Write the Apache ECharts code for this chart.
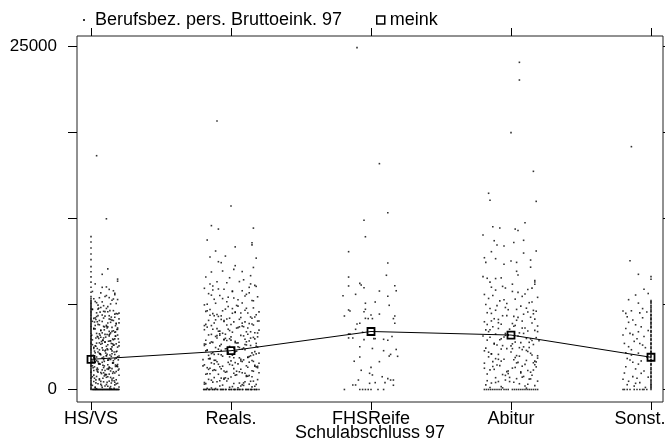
<!DOCTYPE html>
<html>
<head>
<meta charset="utf-8">
<script src="https://cdn.jsdelivr.net/npm/echarts@6/dist/echarts.min.js"></script>
<style>
  html, body { margin: 0; padding: 0; background: #fff; }
  #chart { width: 665px; height: 440px; }
</style>
</head>
<body>
<div id="chart"></div>
<script>
// School-leaving qualification groups (x categories)
const categories = ['HS/VS', 'Reals.', 'FHSReife', 'Abitur', 'Sonst.'];
// Group means of gross income (meink)
const meink = [2200, 2830, 4230, 3970, 2350];
// Y axis ticks and labelled ticks
const yTickValues = [0, 6250, 12500, 18750, 25000];
const yLabelValues = [0, 25000];

// Individual incomes per group as [jitter offset, income in DM]
const incHSVS = [
  [.01,0],[.03,0],[.05,0],[.07,0],[.09,0],[.11,0],[.13,0],[.15,0],[.17,0],[.19,0],[.02,0],[.06,0],[.10,0],[.14,0],[.18,0],[.04,0],[.08,0],[.12,0],[.16,0],[.20,0],
  [.015,0],[.025,0],[.035,0],[.045,0],[.055,0],[.065,0],[.075,0],[.085,0],[.095,0],[.105,0],[.115,0],[.125,0],[.135,0],[.145,0],[.155,0],[.165,0],[.175,0],[.185,0],[.195,0],
  [.03,120],[.17,340],[.09,560],[.14,210],[.06,780],[.19,450],[.11,890],[.01,300],[.15,650],[.08,160],[.12,930],[.05,420],[.18,710],[.02,580],[.10,260],[.16,840],[.07,380],[.13,610],[.04,950],[.20,180],[.115,520],[.035,700],[.165,90],[.085,820],[.145,470],
  [.02,1050],[.13,1120],[.07,1240],[.18,1310],[.10,1380],[.04,1450],[.15,1520],[.09,1600],[.19,1660],[.01,1730],[.12,1800],[.06,1870],[.16,1940],[.03,1990],[.11,1090],[.17,1200],[.05,1270],[.14,1350],[.08,1430],[.20,1500],[.135,1580],[.025,1650],[.095,1720],[.175,1790],[.055,1860],[.155,1920],[.075,1160],[.125,1470],[.045,1560],[.185,1700],
  [.04,60],[.12,240],[.18,410],[.07,590],[.15,770],[.01,930],[.10,1110],[.16,1290],[.05,1460],[.13,1640],[.19,1820],[.08,1980],[.03,180],[.11,360],[.17,530],[.06,700],[.14,880],[.20,1040],[.09,1220],[.02,1390],
  [.125,1550],[.185,1730],[.055,1910],[.135,100],[.075,290],[.165,640],[.025,820],[.095,990],[.155,1180],[.045,1340],[.115,1500],[.175,1680],[.065,1850],[.145,30],[.035,480],[.105,1060],[.195,1410],[.015,1590],[.085,1770],[.155,1950],
  [.05,2030],[.16,2100],[.09,2180],[.13,2250],[.02,2320],[.19,2390],[.11,2460],[.07,2540],[.15,2610],[.03,2680],[.18,2750],[.10,2820],[.06,2890],[.14,2960],[.01,2070],[.12,2140],[.17,2220],[.08,2300],[.04,2370],[.20,2440],[.135,2520],[.065,2590],[.105,2660],[.165,2730],[.025,2800],[.085,2870],[.145,2940],[.045,2990],[.195,2160],[.115,2570],
  [.08,3040],[.15,3110],[.03,3190],[.12,3260],[.18,3330],[.06,3400],[.10,3470],[.14,3550],[.01,3620],[.17,3690],[.09,3760],[.05,3830],[.13,3900],[.19,3970],[.02,3080],[.11,3150],[.16,3230],[.07,3300],[.04,3380],[.20,3450],[.125,3520],[.085,3600],[.155,3680],[.035,3750],[.105,3820],[.175,3890],[.065,3960],[.145,3360],
  [.03,2010],[.14,2190],[.09,2370],[.17,2550],[.05,2730],[.12,2910],[.19,3090],[.01,3270],[.10,3450],[.16,3630],[.07,3810],[.13,3990],[.04,2100],[.18,2280],[.11,2460],[.06,2640],[.15,2820],[.02,3000],[.20,3180],[.08,3360],
  [.135,3540],[.055,3720],[.175,3900],[.095,2050],[.025,2240],[.145,2420],[.065,2600],[.185,2790],[.115,2970],[.035,3150],[.155,3330],[.075,3510],[.195,3690],[.045,3870],[.125,2150],[.015,2500],[.105,2880],[.165,3240],[.085,3580],[.005,3960],
  [.10,4020],[.04,4090],[.17,4170],[.13,4240],[.07,4310],[.19,4390],[.02,4460],[.15,4530],[.09,4610],[.11,4680],[.05,4750],[.18,4830],[.14,4900],[.01,4970],[.08,4130],[.16,4280],[.03,4420],[.12,4570],[.06,4720],[.20,4860],[.135,4050],[.095,4350],[.175,4650],[.045,4940],[.115,4490],
  [.06,5030],[.14,5110],[.02,5190],[.17,5270],[.10,5350],[.08,5430],[.19,5510],[.04,5590],[.12,5670],[.16,5750],[.01,5830],[.11,5910],[.07,5980],[.15,5060],[.03,5220],[.13,5380],[.18,5540],[.09,5700],[.05,5860],[.20,5150],
  [.06,4060],[.15,4240],[.02,4420],[.11,4600],[.18,4780],[.08,4960],[.13,5140],[.04,5320],[.17,5500],[.10,5680],[.01,5860],[.14,4130],[.07,4310],[.19,4490],[.03,4670],
  [.12,4850],[.16,5030],[.09,5210],[.05,5390],[.20,5570],[.135,5750],[.055,5930],[.175,4200],[.095,4560],[.025,4920],[.145,5280],[.065,5640],[.115,4010],[.185,4380],[.035,5100],
  [.12,6040],[.05,6150],[.18,6270],[.08,6390],[.15,6510],[.02,6620],[.10,6780],[.17,6920],[.04,6330],[.13,6700],[.16,6600],
  [.09,6110],[.14,6240],[.03,6420],[.19,6560],[.06,6690],[.11,6850],[.17,7010],[.01,7150],[.13,7300],[.08,7450],
  [.07,7050],[.16,7200],[.11,7480],[.03,7700],[.19,7900],[.12,8800],[.19,8050],[.08,8400],[.11,12450],[.04,17050],
  [0,0],[0,130],[0,310],[0,420],[0,590],[0,760],[0,880],[0,1040],[0,1210],[0,1330],[0,1490],[0,1660],[0,1790],[0,1950],[0,2090],[0,2240],[0,2410],[0,2530],[0,2700],[0,2860],[0,2990],[0,3140],
  [0,3310],[0,3440],[0,3620],[0,3760],[0,3890],[0,4060],[0,4190],[0,4350],[0,4510],[0,4640],[0,4790],[0,4960],[0,5100],[0,5240],[0,5410],[0,5560],[0,5690],[0,5850],[0,5990],[0,6160],[0,6290],[0,6450],
  [0,60],[0,220],[0,360],[0,510],[0,670],[0,820],[0,960],[0,1120],[0,1270],[0,1410],[0,1570],[0,1720],[0,1870],[0,2020],[0,2170],[0,2320],[0,2470],[0,2620],[0,2780],[0,2930],[0,3070],[0,3220],
  [0,3380],[0,3530],[0,3690],[0,3830],[0,3970],[0,4120],[0,4270],[0,4430],[0,4580],[0,4720],[0,4880],[0,5030],[0,5170],[0,5330],[0,5480],[0,5630],[0,5770],[0,5920],[0,6080],[0,6230],[0,6370],[0,6530],[0,6650],
  [0,6780],[0,7090],[0,7460],[0,7830],[0,8210],[0,8590],[0,8960],[0,9470],[0,9880],[0,10320],[0,10760],[0,11150]
];
const incReals = [
  [-.19,0],[-.16,0],[-.13,0],[-.10,0],[-.07,0],[-.04,0],[-.01,0],[.02,0],[.05,0],[.08,0],[.11,0],[.14,0],[.17,0],[.20,0],[-.18,0],[-.12,0],[-.06,0],[0,0],[.06,0],[.12,0],[.18,0],[-.15,0],[.03,0],[.15,0],
  [-.195,0],[-.175,0],[-.155,0],[-.135,0],[-.115,0],[-.095,0],[-.075,0],[-.055,0],[-.035,0],[-.015,0],[.005,0],[.025,0],[.045,0],[.065,0],[.085,0],[.105,0],[.125,0],[.145,0],[.165,0],[.185,0],
  [-.17,80],[.08,350],[-.03,620],[.15,190],[-.12,870],[.02,440],[.19,720],[-.08,260],[.11,950],[-.19,510],[.05,130],[-.14,680],[.13,390],[-.05,810],[.17,240],[-.10,560],[0,910],[.09,300],[-.16,740],[.06,470],[-.01,160],[.14,600],[-.07,830],[.18,370],[-.13,540],
  [.03,1040],[-.18,1110],[.10,1190],[-.04,1260],[.16,1330],[-.11,1400],[.07,1480],[-.15,1550],[.12,1620],[-.06,1700],[.01,1770],[-.09,1840],[.20,1910],[-.02,1980],[.04,1070],[-.17,1150],[.08,1220],[-.03,1300],[.15,1370],[-.12,1440],[.02,1520],[.19,1590],[-.08,1660],[.11,1730],[-.19,1800],[.05,1870],[-.14,1940],[.13,1020],[-.05,1350],[.17,1690],
  [-.11,70],[.07,250],[-.18,430],[.16,610],[-.02,790],[.12,970],[-.15,1150],[.04,1330],[-.07,1510],[.19,1690],[-.12,1870],[.01,210],[-.19,390],[.10,570],[-.05,750],[.15,930],[-.09,1110],[.06,1290],
  [-.16,1470],[.18,1650],[-.01,1830],[.13,1990],[-.14,110],[.09,480],[-.04,850],[.20,1220],[-.17,1590],[.03,1960],[-.08,640],[.11,1020],[-.13,1390],[.17,1760],[-.06,320],[.02,1180],[-.20,1720],
  [-.10,2020],[0,2090],[.09,2160],[-.16,2240],[.06,2310],[-.01,2380],[.14,2460],[-.07,2530],[.18,2600],[-.13,2680],[.03,2750],[-.18,2820],[.10,2900],[-.04,2970],[.16,2050],[-.11,2130],[.07,2200],[-.15,2280],[.12,2350],[-.06,2430],[.01,2500],[-.09,2570],[.20,2650],[-.02,2720],[.04,2790],[-.17,2860],[.08,2940],[-.03,2990],[.15,2110],[-.12,2560],
  [.02,3030],[.19,3100],[-.08,3180],[.11,3250],[-.19,3320],[.05,3400],[-.14,3470],[.13,3540],[-.05,3620],[.17,3690],[-.10,3760],[0,3840],[.09,3910],[-.16,3980],[.06,3060],[-.01,3140],[.14,3210],[-.07,3290],[.18,3360],[-.13,3440],[.03,3510],[-.18,3590],[.10,3660],[-.04,3730],[.16,3800],[-.11,3870],[.07,3950],[-.15,3380],
  [.08,2040],[-.15,2220],[.13,2400],[-.02,2580],[.17,2760],[-.09,2940],[.05,3120],[-.18,3300],[.11,3480],[-.05,3660],[.19,3840],[-.12,2130],[.02,2310],[-.16,2490],[.15,2670],[-.07,2850],[.09,3030],[-.19,3210],
  [.04,3390],[-.03,3570],[.14,3750],[-.10,3930],[.07,2080],[-.14,2620],[.18,3160],[-.01,3700],[.12,2340],[-.17,2880],[.03,3420],[-.08,3960],[.16,2520],[-.11,3060],[0,3600],[-.20,2180],[.10,3280],
  [.12,4030],[-.06,4100],[.01,4180],[-.09,4250],[.20,4330],[-.02,4400],[.04,4480],[-.17,4550],[.08,4630],[-.03,4700],[.15,4780],[-.12,4850],[.02,4930],[.19,4990],[-.08,4070],[.11,4210],[-.19,4360],[.05,4510],[-.14,4660],[.13,4810],[-.05,4960],[.17,4140],[-.10,4440],[0,4740],[.09,4580],
  [-.16,5040],[.06,5120],[-.01,5200],[.14,5290],[-.07,5370],[.18,5450],[-.13,5530],[.03,5620],[-.18,5700],[.10,5780],[-.04,5860],[.16,5950],[-.11,5080],[.07,5250],[-.15,5410],[.12,5580],[-.06,5740],[.01,5900],[-.09,5330],[.20,5660],
  [-.04,4030],[.14,4210],[-.13,4390],[.06,4570],[-.18,4750],[.10,4930],[-.07,5110],[.17,5290],[-.10,5470],[.03,5650],[-.15,5830],[.19,4120],[-.01,4300],[.12,4480],
  [-.19,4660],[.08,4840],[-.05,5020],[.15,5200],[-.12,5380],[.01,5560],[-.17,5740],[.11,5920],[-.08,4260],[.16,4700],[-.03,5140],[.07,5580],[-.14,4020],[.20,5000],
  [-.02,6050],[.04,6130],[-.17,6220],[.08,6310],[-.03,6400],[.15,6490],[-.12,6580],[.02,6670],[.19,6760],[-.08,6850],[.11,6940],[-.19,6170],[.05,6540],[-.14,6880],
  [.05,6080],[-.11,6290],[.16,6470],[-.06,6630],[.10,6820],[-.16,6990],[.01,7140],[-.09,7330],[.18,7520],[-.15,7690],[.06,7870],[-.02,6730],
  [.13,7050],[-.05,7310],[.17,7590],[-.10,7860],[-.19,7380],[-.13,7550],[-.13,7260],[.01,7180],[.08,7200],[.13,7450],[-.03,7790],[.14,7700],
  [-.14,8570],[-.06,8640],[.02,8760],[.08,8600],[.14,8300],[.09,8000],[-.01,8150],[-.15,9660],[-.04,9730],[.18,9580],[-.09,9320],[-.07,9250],[.03,9030],[.16,8900],[-.18,8200],
  [0,13380],[-.14,11950],[-.09,11700],[.16,11770],[.15,10700],[-.11,10100],[.03,10400],[.15,10550],[-.17,10900],[-.10,19580]
];
const incFHS = [
  [-.10,24930],[.06,16470],[.12,12890],[-.05,12340],[-.04,11140],[-.16,10050],[.12,9220],[-.16,8200],[.11,8330],[-.16,7550],[-.08,7740],[-.07,7620],[-.05,7420],[.17,7570],[.18,7200],[.06,7180],
  [-.11,6940],[-.20,6840],[.12,6800],[-.04,6290],[.03,6380],[.13,6140],[-.16,5800],[-.15,5720],[-.04,5850],[-.05,5670],[0,5430],[.06,5500],[-.19,5360],[.17,5360],[-.04,5190],[-.02,5170],[.01,5170],[.16,5170],
  [.17,4830],[-.10,4780],[-.08,4830],[-.11,4390],[-.06,4170],[-.16,4050],[-.15,4050],[-.16,3760],[-.13,3760],[-.05,3640],[.02,3710],[.03,3710],[.09,3660],[.15,3860],[.12,3590],
  [-.08,3120],[.09,2830],[.14,2560],[.01,2990],[.18,2920],[-.08,2370],[.13,2440],[.19,2420],[-.12,2060],[.06,2030],[-.07,1400],[0,1610],[-.01,1180],[.01,1060],[.08,930],[.12,790],[.14,690],[.16,690],[-.09,690],
  [-.13,330],[-.11,330],[-.01,450],[.03,500],[.10,500],[.16,310],[-.19,0],[-.08,0],[-.06,0],[-.04,0],[-.02,0],[0,0],[.05,0],[.09,0]
];
const incAbitur = [
  [-.19,0],[-.16,0],[-.13,0],[-.10,0],[-.07,0],[-.02,0],[.01,0],[.04,0],[.07,0],[.10,0],[.13,0],[.16,0],[.19,0],[-.05,0],
  [-.175,0],[-.145,0],[-.115,0],[-.085,0],[-.035,0],[.025,0],[.055,0],[.085,0],[.115,0],[.145,0],[.175,0],
  [-.15,150],[.06,420],[-.04,690],[.17,280],[-.11,860],[.02,530],[.13,760],[-.18,340],[.09,950],[-.07,210],[.19,610],[-.01,880],[.11,100],[-.14,470],[.04,790],[-.09,580],
  [.15,1040],[-.17,1130],[.07,1210],[-.03,1300],[.12,1390],[-.12,1470],[.01,1560],[.18,1650],[-.08,1740],[.10,1830],[-.19,1920],[.05,1980],[-.06,1090],[.14,1260],[-.15,1430],[.03,1610],[-.10,1790],[.16,1950],[-.02,1350],[.08,1700],
  [-.13,2030],[.11,2120],[-.05,2210],[.19,2290],[-.16,2380],[.04,2470],[-.09,2560],[.14,2640],[0,2730],[-.19,2820],[.08,2910],[-.03,2980],[.17,2070],[-.11,2250],[.06,2430],[-.14,2600],[.12,2770],[-.07,2950],[.02,2170],[.15,2520],
  [-.06,120],[.12,380],[-.17,640],[.08,900],[-.02,1160],[.16,1420],[-.13,1680],[.04,1940],[-.09,2200],[.19,2460],[-.16,2720],[.01,2980],[.10,250],
  [-.11,510],[.14,770],[-.04,1030],[.07,1290],[-.19,1550],[.17,1810],[-.07,2070],[.03,2330],[-.14,2590],[.11,2850],[-.01,580],[.18,2010],
  [-.18,3020],[.09,3110],[-.06,3200],[.16,3280],[-.12,3370],[.03,3460],[.20,3550],[-.08,3630],[.11,3720],[-.15,3810],[.05,3900],[-.02,3980],[.13,3060],[-.10,3240],[.07,3420],[-.17,3600],[.18,3780],[-.04,3950],[.01,3330],[.14,3690],
  [-.11,4040],[.06,4130],[-.16,4220],[.17,4310],[-.01,4400],[.10,4490],[-.13,4580],[.03,4670],[-.07,4760],[.15,4850],[-.19,4940],[.08,4990],[-.04,4090],[.12,4270],[-.09,4450],[.19,4630],[.01,4810],[-.15,4360],
  [.04,5050],[-.12,5160],[.14,5270],[-.06,5380],[.09,5490],[-.17,5600],[.18,5710],[-.02,5820],[.11,5930],[-.09,5110],[.02,5330],[-.14,5550],[.16,5770],[-.04,5980],
  [.06,3050],[-.12,3310],[.15,3570],[-.05,3830],[.09,4090],[-.18,4350],[.02,4610],[-.09,4870],[.17,5130],[-.03,5390],[.12,5650],[-.15,5910],[0,3180],
  [-.07,3700],[.19,4220],[-.17,4740],[.05,5260],[-.11,5780],[.13,3440],[-.02,3960],[.08,4480],[-.14,5000],[.16,5520],[-.20,3900],[.04,5840],
  [.07,6080],[-.18,6200],[.13,6330],[-.08,6460],[.03,6590],[.19,6720],[-.13,6850],[.10,6960],[-.03,6270],[-.16,6640],
  [-.10,6120],[.15,6380],[-.05,6550],[.08,6790],[-.19,6930],[.01,7150],[.12,7290],[-.14,7460],
  [.05,7080],[-.11,7250],[.15,7390],[-.06,7520],[.01,7680],[-.15,7830],[.17,7950],[-.04,7400],
  [.06,23860],[.06,22570],[0,18730],[.16,15910],[-.16,14310],[-.15,13800],[.18,13720],[.10,12160],[-.13,11870],[-.08,11780],[.03,11700],[.05,11600],[-.20,11270],[-.12,10850],[.09,10880],[.02,10720],
  [-.10,10540],[-.05,10470],[.18,10100],[-.14,10050],[.09,9950],[-.19,9610],[-.11,9540],[0,9370],[.04,9270],[.14,9440],[-.18,9270],[-.05,9130],[.14,8920],[.04,8620],[.05,8350],[-.20,8230],
  [-.17,8110],[-.07,8140],[-.11,8090],[.17,7840],[.17,7670]
];
const incSonst = [
  [-.14,17710],[-.15,9390],[-.09,8400],[-.05,7310],[-.11,6890],[-.02,7000],[-.16,6550],[-.09,6300],
  [-.20,5720],[-.14,5740],[-.08,5590],[-.17,5300],[-.13,5070],[-.06,5230],[-.03,5650],[-.06,5900],[-.18,5550],
  [-.07,4570],[-.11,4720],[-.16,4900],[-.02,4300],[-.18,4450],[-.13,4000],
  [-.20,3970],[-.15,4090],[-.09,4210],[-.05,3870],[-.19,3360],[-.12,3510],[-.16,3120],[-.06,3240],[-.10,3700],[-.04,3050],[-.08,3350],
  [-.18,2680],[-.14,2510],[-.17,2260],[-.13,1990],[-.07,2080],[-.14,2900],[-.09,2650],[-.03,2380],[-.15,2150],[-.09,1850],
  [-.18,1660],[-.20,750],[-.13,940],[-.10,820],[-.07,1180],[-.11,1500],[-.05,1350],[-.19,1200],[-.02,900],
  [-.17,350],[-.11,450],[-.08,500],[-.16,600],[-.12,250],[-.04,150],
  [-.20,0],[-.19,0],[-.17,0],[-.15,0],[-.12,0],[-.10,0],[-.08,0],[-.06,0],[-.05,0],[-.03,0],
  [0,0],[0,90],[0,260],[0,410],[0,530],[0,700],[0,860],[0,990],[0,1150],[0,1300],[0,1440],[0,1600],[0,1780],[0,1900],[0,2060],[0,2210],[0,2350],[0,2520],[0,2680],[0,2800],[0,2970],[0,3130],
  [0,3280],[0,3400],[0,3580],[0,3720],[0,3860],[0,4010],[0,4170],[0,4300],[0,4480],[0,4620],[0,4760],[0,4910],[0,5080],[0,5220],[0,5370],[0,5490],[0,5660],[0,5830],[0,5950],[0,6140],[0,6300],[0,6480],
  [0,170],[0,340],[0,620],[0,930],[0,1220],[0,1520],[0,1840],[0,2130],[0,2430],[0,2740],[0,3040],[0,3340],[0,3650],[0,3940],[0,4240],[0,4550],[0,4840],[0,5150],[0,5430],[0,5740],[0,6050],[0,6390],
  [0,8040],[0,8230]
];

const groups = [incHSVS, incReals, incFHS, incAbitur, incSonst];
const points = [];
groups.forEach((g, i) => g.forEach(([dx, v]) => points.push([i + dx, v])));

const FONT = '"Liberation Sans", Arial, Helvetica, sans-serif';
const catTicks = categories.map((_, i) => i);
const X_MIN = -0.1, X_MAX = 4.0857;
const Y_MIN = -912, Y_MAX = 25780;
const SCATTER_NAME = 'Berufsbez. pers. Bruttoeink. 97';
const hiddenLine = { show: false, onZero: false };

// the last category label is nudged left so it stays inside the canvas
const catLabel = v => {
  const i = Math.round(v);
  return i === categories.length - 1 ? '{edge|' + categories[i] + '}' : categories[i];
};

const chart = echarts.init(document.getElementById('chart'), null, { renderer: 'canvas' });
chart.setOption({
  animation: false,
  backgroundColor: '#fff',
  textStyle: { fontFamily: FONT },
  grid: {
    left: 77, right: 2, top: 36, bottom: 38, show: true, borderColor: '#222', borderWidth: 1,
    containLabel: false, outerBoundsMode: 'none'
  },
  legend: [
    {
      data: [SCATTER_NAME], left: 78, top: 6, icon: 'rect', itemWidth: 2, itemHeight: 2,
      textStyle: { fontSize: 18, color: '#000', fontFamily: FONT, padding: [0, 0, 0, 5] }
    },
    {
      data: [{ name: 'meink', icon: 'rect', itemStyle: { color: 'rgba(0,0,0,0)', borderColor: '#000', borderWidth: 1.5 } }],
      left: 371, top: 6, itemWidth: 8, itemHeight: 8,
      textStyle: { fontSize: 18, color: '#000', fontFamily: FONT }
    }
  ],
  xAxis: [
    {
      type: 'value', position: 'bottom', min: X_MIN, max: X_MAX,
      axisLine: hiddenLine, splitLine: { show: false },
      axisTick: { show: true, inside: false, customValues: catTicks, length: 8, lineStyle: { color: '#000' } },
      axisLabel: {
        customValues: catTicks, formatter: catLabel, fontSize: 18, color: '#000', margin: 8, fontFamily: FONT,
        rich: { edge: { fontSize: 18, color: '#000', fontFamily: FONT, padding: [0, 22, 0, 0] } }
      },
      name: 'Schulabschluss 97', nameLocation: 'middle', nameGap: 22, nameMoveOverlap: false,
      nameTextStyle: { fontSize: 18, color: '#000', fontFamily: FONT }
    },
    {
      type: 'value', position: 'top', min: X_MIN, max: X_MAX,
      axisLine: hiddenLine, splitLine: { show: false },
      axisTick: { show: true, inside: false, customValues: catTicks, length: 8, lineStyle: { color: '#000' } },
      axisLabel: { show: false }
    }
  ],
  yAxis: [
    {
      type: 'value', position: 'left', min: Y_MIN, max: Y_MAX,
      axisLine: hiddenLine, splitLine: { show: false },
      axisTick: { show: true, inside: false, customValues: yTickValues, length: 9, lineStyle: { color: '#000' } },
      axisLabel: { customValues: yLabelValues, formatter: v => String(v), fontSize: 17, color: '#000', margin: 20, fontFamily: FONT }
    },
    {
      type: 'value', position: 'right', min: Y_MIN, max: Y_MAX,
      axisLine: hiddenLine, splitLine: { show: false },
      axisTick: { show: true, inside: false, customValues: yTickValues, length: 8, lineStyle: { color: '#000' } },
      axisLabel: { show: false }
    }
  ],
  series: [
    {
      name: SCATTER_NAME, type: 'scatter', data: points,
      symbol: 'rect', symbolSize: 1.6, silent: true,
      itemStyle: { color: '#000' }
    },
    {
      name: 'meink', type: 'line', data: meink.map((v, i) => [i, v]),
      symbol: 'rect', symbolSize: 7, showAllSymbol: true, z: 5,
      itemStyle: { color: 'rgba(0,0,0,0)', borderColor: '#000', borderWidth: 1.8 },
      lineStyle: { color: '#000', width: 1 }
    }
  ]
});
</script>
</body>
</html>
